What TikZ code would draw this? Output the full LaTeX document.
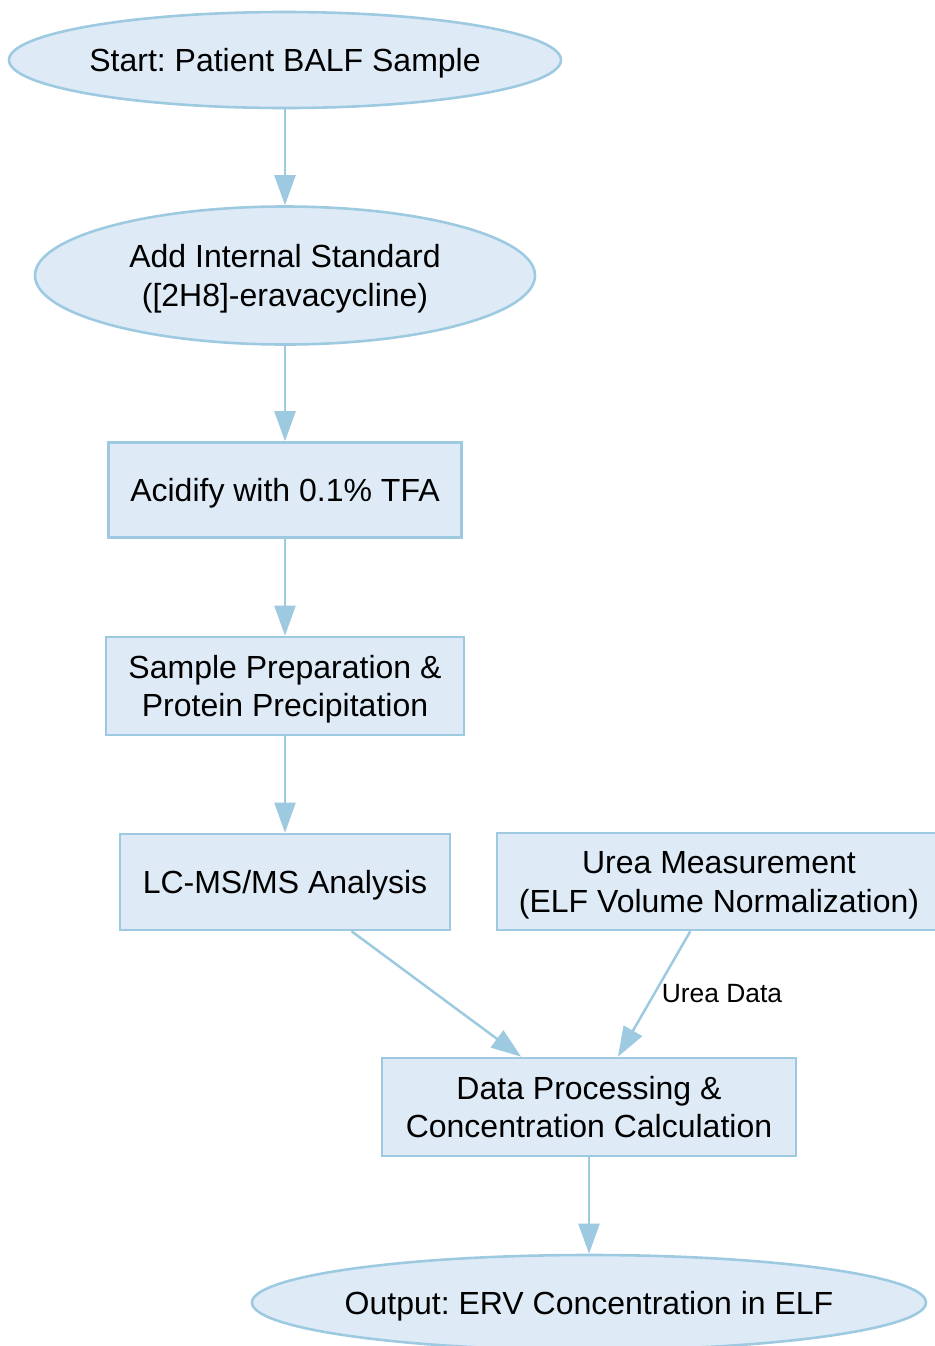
\documentclass[tikz,border=0pt]{standalone}
\usepackage{fontspec}
\setmainfont{Liberation Sans}
\usetikzlibrary{shapes.geometric,arrows.meta}
\definecolor{nodefill}{HTML}{DEEBF7}
\definecolor{nodeline}{HTML}{9ECAE1}
\frenchspacing
\begin{document}
\begin{tikzpicture}[x=0.5pt,y=-0.5pt,
  base/.style={draw=nodeline, fill=nodefill, line width=1.3pt, inner sep=0pt,
    font=\fontsize{16}{19.2}\selectfont, align=center, text=black},
  oneline/.style={text height=11.5pt, text depth=0pt},
  twoline/.style={text height=30.7pt, text depth=0pt},
  oval/.style={base, ellipse},
  box/.style={base, rectangle},
  conn/.style={draw=nodeline, line width=1.25pt, -{Triangle[length=15pt,width=10.5pt]}},
  lbl/.style={font=\fontsize{13.2}{15.8}\selectfont, inner sep=0pt, text=black}
]
\useasboundingbox (0,0) rectangle (935,1346);
\node[oval, oneline, minimum width=276pt, minimum height=48pt] (start) at (285,60) {\makebox[0pt][c]{Start: Patient BALF Sample}};
\node[oval, twoline, minimum width=250pt, minimum height=69pt] (istd) at (285,275.5) {Add Internal Standard\\([2H8]-eravacycline)};
\node[box, oneline, minimum width=176.5pt, minimum height=47.5pt] (acid) at (285,490) {Acidify with 0.1\% TFA};
\node[box, twoline, minimum width=179pt, minimum height=49pt] (prep) at (285,686) {Sample Preparation \&\\Protein Precipitation};
\node[box, oneline, minimum width=165pt, minimum height=48pt] (lcms) at (285,882) {LC-MS/MS Analysis};
\node[box, twoline, minimum width=222pt, minimum height=48.5pt] (urea) at (719,881.5) {Urea Measurement\\(ELF Volume Normalization)};
\node[box, twoline, minimum width=207pt, minimum height=49pt] (data) at (589,1107) {Data Processing \&\\Concentration Calculation};
\node[oval, oneline, minimum width=337pt, minimum height=47.5pt] (out) at (589,1302.5) {\makebox[0pt][c]{Output: ERV Concentration in ELF}};
\draw[conn] (start) -- (istd);
\draw[conn] (istd) -- (acid);
\draw[conn] (acid) -- (prep);
\draw[conn] (prep) -- (lcms);
\draw[conn] (lcms) -- (data);
\draw[conn] (urea) -- node[lbl, pos=0.5, anchor=west, xshift=3.25pt] (ulbl) {Urea Data} (data);
\draw[conn] (data) -- (out);
\end{tikzpicture}
\end{document}
